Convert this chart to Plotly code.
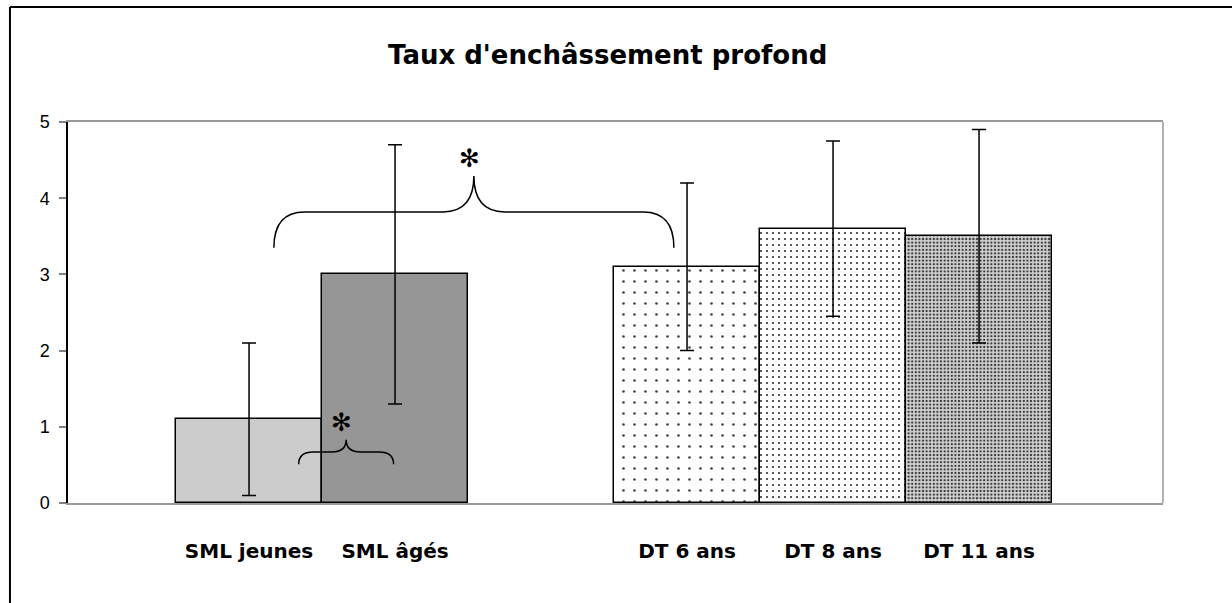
import plotly.graph_objects as go

# Data
categories = ["SML jeunes", "SML âgés", "DT 6 ans", "DT 8 ans", "DT 11 ans"]
positions = [0, 1, 3, 4, 5]          # slot 2 left empty between the two groups
means = [1.1, 3.0, 3.1, 3.6, 3.5]
errors = [1.0, 1.7, 1.1, 1.15, 1.4]
y_ticks = [0, 1, 2, 3, 4, 5]

# Bar styles, one per bar
fill_colors = ["#cccccc", "#969696", "#ffffff", "#ffffff", "#d4d4d4"]
pattern_shapes = ["", "", ".", ".", "."]
pattern_sizes = [8, 8, 11, 6, 3.6]
pattern_solidity = [0.2, 0.2, 0.045, 0.11, 0.33]
pattern_fg = ["#000000", "#000000", "#444444", "#333333", "#3a3a3a"]

fig = go.Figure()
for i in range(len(categories)):
    pattern = dict(shape=pattern_shapes[i])
    if pattern_shapes[i]:
        pattern.update(size=pattern_sizes[i], solidity=pattern_solidity[i],
                       fgcolor=pattern_fg[i], bgcolor=fill_colors[i],
                       fillmode="replace")
    fig.add_trace(go.Bar(
        x=[positions[i]],
        y=[means[i]],
        width=1.0,
        name=categories[i],
        marker=dict(color=fill_colors[i],
                    line=dict(color="black", width=1.5),
                    pattern=pattern),
        error_y=dict(type="data", array=[errors[i]], visible=True,
                     color="black", thickness=1.5, width=7),
        showlegend=False,
    ))


def brace_path(x0, x1, xm, y_end, y_bar, y_tip, rx):
    """Curly brace opening downward, tip pointing up at xm."""
    return (
        f"M {x0},{y_end} Q {x0},{y_bar} {x0 + rx},{y_bar} "
        f"L {xm - rx},{y_bar} Q {xm},{y_bar} {xm},{y_tip} "
        f"Q {xm},{y_bar} {xm + rx},{y_bar} "
        f"L {x1 - rx},{y_bar} Q {x1},{y_bar} {x1},{y_end}"
    )


# Significance braces (data units)
big = dict(x0=0.17, x1=2.91, xm=1.54, y_end=3.35, y_bar=3.82, y_tip=4.29, rx=0.21)
small = dict(x0=0.34, x1=0.99, xm=0.665, y_end=0.51, y_bar=0.67, y_tip=0.83, rx=0.1)

shapes = []
for b in (big, small):
    shapes.append(dict(type="path", xref="x", yref="y", path=brace_path(**b),
                       line=dict(color="black", width=1.5)))

# Right border of the plot area
shapes.append(dict(type="line", xref="paper", yref="paper", x0=1, x1=1, y0=0, y1=1,
                   line=dict(color="#999999", width=1.5)))
# Outer frame (left and top edges)
shapes.append(dict(type="line", xref="paper", yref="paper", x0=-0.053, x1=-0.053,
                   y0=-0.4, y1=1.302, line=dict(color="black", width=2)))
shapes.append(dict(type="line", xref="paper", yref="paper", x0=-0.053, x1=1.2,
                   y0=1.302, y1=1.302, line=dict(color="black", width=2)))

annotations = [
    dict(text="Taux d'enchâssement profond", xref="paper", yref="paper",
         x=0.493, y=1.176, xanchor="center", yanchor="middle", showarrow=False,
         font=dict(family="DejaVu Sans", size=26, color="black", weight="bold")),
]
for b in (big, small):
    annotations.append(dict(text="✻", xref="x", yref="y", x=b["xm"] - 0.03,
                            y=b["y_tip"], yanchor="bottom", yshift=1, showarrow=False,
                            font=dict(family="DejaVu Sans", size=25, color="black")))

fig.update_layout(
    width=1232, height=603,
    margin=dict(l=68, r=69, t=122, b=100),
    paper_bgcolor="white", plot_bgcolor="white",
    barmode="overlay",
    bargap=0,
    shapes=shapes,
    annotations=annotations,
    xaxis=dict(
        range=[-1.24, 6.26],
        tickvals=positions, ticktext=categories,
        ticks="", showgrid=False, zeroline=False,
        showline=True, linecolor="#999999", linewidth=1.5, mirror=True,
        ticklabelstandoff=29,
        tickfont=dict(family="DejaVu Sans", size=20, color="black", weight="bold"),
    ),
    yaxis=dict(
        range=[0, 5],
        tickvals=y_ticks,
        ticks="outside", ticklen=7, tickcolor="#808080", tickwidth=1.5,
        showgrid=False, zeroline=False,
        showline=True, linecolor="black", linewidth=1.5,
        ticklabelstandoff=6,
        tickfont=dict(family="Liberation Sans", size=18, color="black"),
    ),
)

fig.write_html("out.html")
